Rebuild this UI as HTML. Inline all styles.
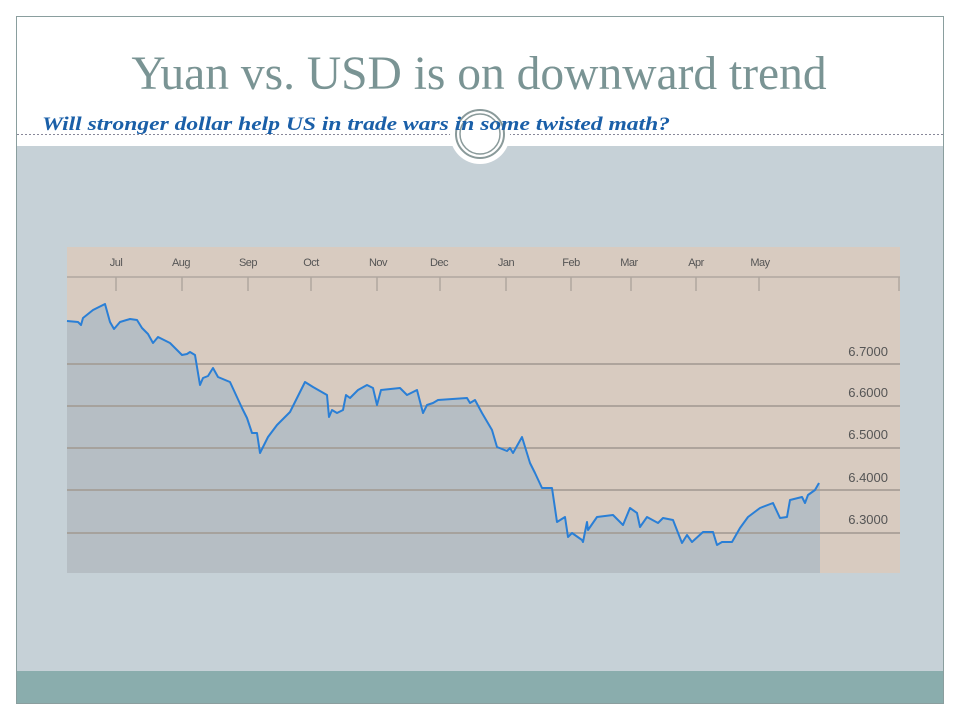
<!DOCTYPE html>
<html><head><meta charset="utf-8"><style>
html,body{margin:0;padding:0;background:#fff;width:960px;height:720px;overflow:hidden}
</style></head><body>
<svg width="960" height="720" viewBox="0 0 960 720" xmlns="http://www.w3.org/2000/svg">
<rect x="0" y="0" width="960" height="720" fill="#fff"/>
<rect x="16.5" y="16.5" width="927" height="687" fill="#fff" stroke="#8a9e9e" stroke-width="1"/>
<rect x="17" y="146" width="926" height="525" fill="#c6d1d7"/>
<rect x="17" y="671" width="926" height="32" fill="#8aadad"/>
<line x1="17" y1="134.5" x2="943" y2="134.5" stroke="#889" stroke-width="1" stroke-dasharray="2,2"/>
<text x="479" y="89" text-anchor="middle" font-family="Liberation Serif, serif" font-size="47.5" fill="#7a9494">Yuan vs. USD is on downward trend</text>
<circle cx="480" cy="134" r="30" fill="#fff"/>
<circle cx="480" cy="134" r="24" fill="none" stroke="#8a9a9a" stroke-width="2"/>
<circle cx="480" cy="134" r="20" fill="none" stroke="#8a9a9a" stroke-width="1.5"/>
<text x="42" y="130" font-family="Liberation Serif, serif" font-style="italic" font-weight="bold" font-size="19" fill="#1a5fa8" textLength="628" lengthAdjust="spacingAndGlyphs">Will stronger dollar help US in trade wars in some twisted math?</text>
<!-- chart -->
<rect x="67" y="247" width="833" height="326" fill="#d8cbc0"/>
<line x1="67" y1="277" x2="900" y2="277" stroke="#b0a79f" stroke-width="1.5"/>
<g stroke="#b0a79f" stroke-width="1.5">
<line x1="116" y1="277" x2="116" y2="291"/><line x1="182" y1="277" x2="182" y2="291"/>
<line x1="248" y1="277" x2="248" y2="291"/><line x1="311" y1="277" x2="311" y2="291"/>
<line x1="377" y1="277" x2="377" y2="291"/><line x1="440" y1="277" x2="440" y2="291"/>
<line x1="506" y1="277" x2="506" y2="291"/><line x1="571" y1="277" x2="571" y2="291"/>
<line x1="631" y1="277" x2="631" y2="291"/><line x1="696" y1="277" x2="696" y2="291"/>
<line x1="759" y1="277" x2="759" y2="291"/><line x1="899" y1="277" x2="899" y2="291"/>
</g>
<g font-family="Liberation Sans, sans-serif" font-size="11" fill="#555" text-anchor="middle" letter-spacing="-0.5">
<text x="116" y="266">Jul</text><text x="181" y="266">Aug</text><text x="248" y="266">Sep</text>
<text x="311" y="266">Oct</text><text x="378" y="266">Nov</text><text x="439" y="266">Dec</text>
<text x="506" y="266">Jan</text><text x="571" y="266">Feb</text><text x="629" y="266">Mar</text>
<text x="696" y="266">Apr</text><text x="760" y="266">May</text>
</g>
<path d="M67,321 L78,322 L81,325 L83,318 L93,310 L105,304 L110,322 L114,329 L120,322 L130,319 L137,320 L142,328 L148,334 L153,343 L158,337 L170,343 L182,355 L187,354 L190,352 L195,355 L200,385 L203,378 L208,376 L213,368 L218,377 L230,382 L242,408 L247,418 L252,433 L257,433 L260,453 L268,437 L277,425 L290,412 L305,382 L313,387 L327,395 L329,417 L332,410 L337,413 L343,410 L346,395 L350,398 L358,390 L367,385 L373,388 L377,405 L381,390 L400,388 L407,395 L417,390 L423,413 L427,405 L433,403 L438,400 L467,398 L470,403 L475,400 L482,413 L492,430 L497,447 L507,451 L510,448 L513,453 L522,437 L530,463 L535,473 L542,488 L552,488 L557,522 L565,517 L568,537 L572,533 L582,540 L583,542 L587,522 L588,530 L597,517 L613,515 L623,525 L630,508 L637,513 L640,527 L647,517 L658,523 L663,518 L673,520 L682,543 L687,535 L692,542 L703,532 L713,532 L717,545 L722,542 L732,542 L740,528 L748,517 L760,508 L773,503 L780,518 L787,517 L790,500 L802,497 L805,503 L808,495 L815,490 L819,483 L820,483 L820,573 L67,573 Z" fill="#b6bec4"/>
<g stroke="#a09890" stroke-width="1.5">
<line x1="67" y1="364" x2="900" y2="364"/><line x1="67" y1="406" x2="900" y2="406"/>
<line x1="67" y1="448" x2="900" y2="448"/><line x1="67" y1="490" x2="900" y2="490"/>
<line x1="67" y1="533" x2="900" y2="533"/>
</g>
<g font-family="Liberation Sans, sans-serif" font-size="13" fill="#555" text-anchor="end">
<text x="888" y="356">6.7000</text><text x="888" y="397">6.6000</text><text x="888" y="439">6.5000</text>
<text x="888" y="482">6.4000</text><text x="888" y="524">6.3000</text>
</g>
<path d="M67,321 L78,322 L81,325 L83,318 L93,310 L105,304 L110,322 L114,329 L120,322 L130,319 L137,320 L142,328 L148,334 L153,343 L158,337 L170,343 L182,355 L187,354 L190,352 L195,355 L200,385 L203,378 L208,376 L213,368 L218,377 L230,382 L242,408 L247,418 L252,433 L257,433 L260,453 L268,437 L277,425 L290,412 L305,382 L313,387 L327,395 L329,417 L332,410 L337,413 L343,410 L346,395 L350,398 L358,390 L367,385 L373,388 L377,405 L381,390 L400,388 L407,395 L417,390 L423,413 L427,405 L433,403 L438,400 L467,398 L470,403 L475,400 L482,413 L492,430 L497,447 L507,451 L510,448 L513,453 L522,437 L530,463 L535,473 L542,488 L552,488 L557,522 L565,517 L568,537 L572,533 L582,540 L583,542 L587,522 L588,530 L597,517 L613,515 L623,525 L630,508 L637,513 L640,527 L647,517 L658,523 L663,518 L673,520 L682,543 L687,535 L692,542 L703,532 L713,532 L717,545 L722,542 L732,542 L740,528 L748,517 L760,508 L773,503 L780,518 L787,517 L790,500 L802,497 L805,503 L808,495 L815,490 L819,483" fill="none" stroke="#2a7fd6" stroke-width="2" stroke-linejoin="round"/>
</svg>
</body></html>
